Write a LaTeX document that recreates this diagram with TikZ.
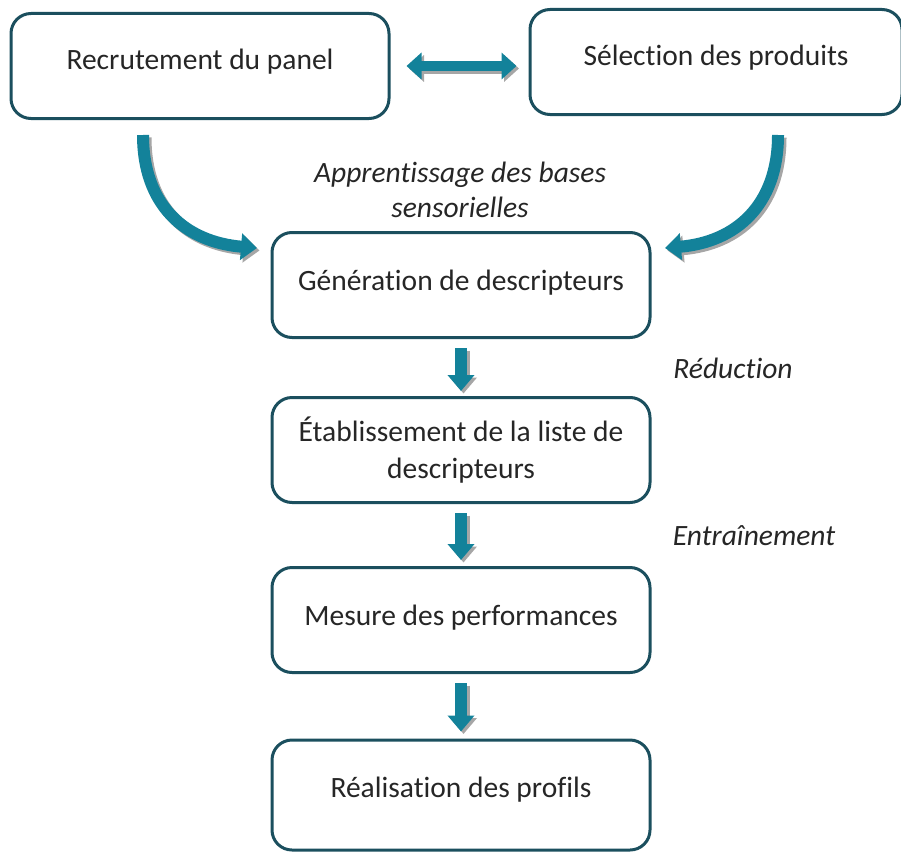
\documentclass[tikz,border=0pt]{standalone}
\usepackage{fontspec}
\setmainfont{Carlito}[Ligatures={NoCommon,NoContextual,NoRare}]
\usetikzlibrary{arrows.meta}
\newcommand{\nolti}{t\kern0pt i}
\definecolor{boxline}{HTML}{1B4F5E}
\definecolor{arrteal}{HTML}{13829A}
\definecolor{shadowgray}{HTML}{A6A6A6}
\definecolor{txt}{HTML}{262626}
\tikzset{
  stepbox/.style={draw=boxline, line width=3pt, rounded corners=20pt, fill=white,
    minimum width=378pt, minimum height=105pt, align=center, text=txt, font=\fontsize{29.5}{37}\selectfont},
  lbl/.style={font=\fontsize{29.5}{35}\selectfont\itshape, text=txt, align=center},
  fat/.style={line width=12pt, -{Triangle[width=26pt,length=16pt]}},
  fatd/.style={line width=10pt, {Triangle[width=26pt,length=15pt]}-{Triangle[width=26pt,length=15pt]}},
}
\begin{document}
\begin{tikzpicture}[x=1pt,y=-1pt]
\useasboundingbox (0,0) rectangle (901,851);
\node[stepbox, text height=22pt, text depth=14pt] (rec) at (200,66) {Recrutement du panel};
\node[stepbox, minimum width=372pt, text height=22pt, text depth=15pt] (sel) at (716,62) {Sélec\nolti on des produits};
\node[stepbox, text height=22pt, text depth=11pt] (gen) at (461,285) {Généra\nolti on de descripteurs};
\node[stepbox] (eta) at (461,450) {Établissement de la liste de\\descripteurs};
\node[stepbox, text height=22pt, text depth=12pt] (mes) at (461,620) {Mesure des performances};
\node[stepbox, minimum height=110pt, text height=22pt, text depth=18pt] (rea) at (461,795) {Réalisa\nolti on des profils};

\coordinate (r0) at (143,135);
\coordinate (r1) at (257,248);
\coordinate (s0) at (778,135);
\coordinate (s1) at (665,248);

% shadows
\begin{scope}[color=shadowgray, transform canvas={shift={(2.5pt,-2.5pt)}}]
\draw[fatd] ([xshift=16pt]rec.east) -- ([xshift=-12pt]sel.west|-rec.east);
\draw[fat] (r0) .. controls (143,205) and (185,242) .. (r1);
\draw[fat] (s0) .. controls (778,205) and (736,242) .. (s1);
\draw[fat] ([yshift=-9pt]gen.south) -- ([yshift=5pt]eta.north);
\draw[fat] ([yshift=-9pt]eta.south) -- ([yshift=6pt]mes.north);
\draw[fat] ([yshift=-9pt]mes.south) -- ([yshift=7pt]rea.north);
\end{scope}
\begin{scope}[color=arrteal]
\draw[fatd] ([xshift=16pt]rec.east) -- ([xshift=-12pt]sel.west|-rec.east);
\draw[fat] (r0) .. controls (143,205) and (185,242) .. (r1);
\draw[fat] (s0) .. controls (778,205) and (736,242) .. (s1);
\draw[fat] ([yshift=-9pt]gen.south) -- ([yshift=5pt]eta.north);
\draw[fat] ([yshift=-9pt]eta.south) -- ([yshift=6pt]mes.north);
\draw[fat] ([yshift=-9pt]mes.south) -- ([yshift=7pt]rea.north);
\end{scope}

\node[lbl] (app) at (460,190) {Appren\nolti ssage des bases\\sensorielles};
\node[lbl] (red) at (733,368) {Réduc\nolti on};
\node[lbl] (ent) at (754,536) {Entraînement};
\end{tikzpicture}
\end{document}
